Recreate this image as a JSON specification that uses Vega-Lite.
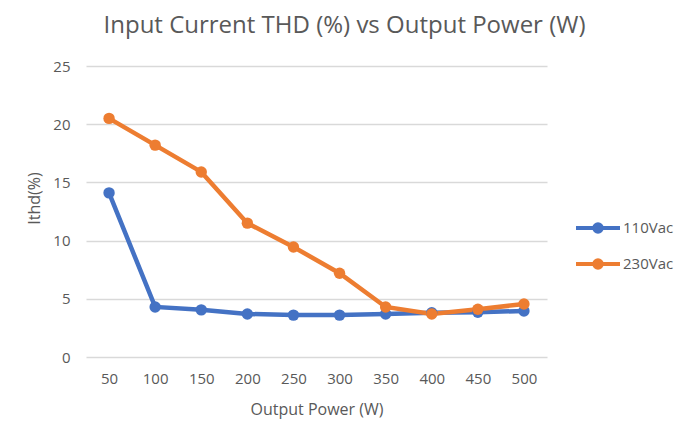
{
  "$schema": "https://vega.github.io/schema/vega-lite/v6.json",
  "autosize": "none",
  "width": 461,
  "height": 291,
  "padding": {"left": 86, "top": 66, "right": 139, "bottom": 73},
  "background": "white",
  "title": {
    "text": "Input Current THD (%) vs Output Power (W)",
    "font": "Open Sans",
    "fontSize": 24,
    "fontWeight": "normal",
    "color": "#595959",
    "anchor": "middle",
    "frame": "group",
    "dx": 28,
    "offset": 21
  },
  "config": {
    "view": {"stroke": null},
    "font": "Open Sans"
  },
  "data": {
    "values": [
      {"power": "50", "series": "110Vac", "thd": 14.1},
      {"power": "100", "series": "110Vac", "thd": 4.3},
      {"power": "150", "series": "110Vac", "thd": 4.05},
      {"power": "200", "series": "110Vac", "thd": 3.7},
      {"power": "250", "series": "110Vac", "thd": 3.6},
      {"power": "300", "series": "110Vac", "thd": 3.6},
      {"power": "350", "series": "110Vac", "thd": 3.7},
      {"power": "400", "series": "110Vac", "thd": 3.8},
      {"power": "450", "series": "110Vac", "thd": 3.85},
      {"power": "500", "series": "110Vac", "thd": 3.95},
      {"power": "50", "series": "230Vac", "thd": 20.5},
      {"power": "100", "series": "230Vac", "thd": 18.2},
      {"power": "150", "series": "230Vac", "thd": 15.9},
      {"power": "200", "series": "230Vac", "thd": 11.5},
      {"power": "250", "series": "230Vac", "thd": 9.45},
      {"power": "300", "series": "230Vac", "thd": 7.2},
      {"power": "350", "series": "230Vac", "thd": 4.3},
      {"power": "400", "series": "230Vac", "thd": 3.7},
      {"power": "450", "series": "230Vac", "thd": 4.1},
      {"power": "500", "series": "230Vac", "thd": 4.55}
    ]
  },
  "encoding": {
    "x": {
      "field": "power",
      "type": "ordinal",
      "sort": null,
      "scale": {"type": "point", "padding": 0.5},
      "axis": {
        "title": "Output Power (W)",
        "titleFont": "Open Sans",
        "titleFontSize": 16,
        "titleFontWeight": "normal",
        "titleColor": "#595959",
        "titlePadding": 15,
        "labelAngle": 0,
        "labelFont": "Open Sans",
        "labelFontSize": 15,
        "labelColor": "#595959",
        "labelPadding": 14,
        "domain": false,
        "ticks": false,
        "grid": false
      }
    },
    "y": {
      "field": "thd",
      "type": "quantitative",
      "scale": {"domain": [0, 25]},
      "axis": {
        "title": "Ithd(%)",
        "titleFont": "Open Sans",
        "titleFontSize": 16,
        "titleFontWeight": "normal",
        "titleColor": "#595959",
        "titlePadding": 10,
        "titleY": 132,
        "values": [0, 5, 10, 15, 20, 25],
        "labelFont": "Open Sans",
        "labelFontSize": 15,
        "labelColor": "#595959",
        "labelPadding": 16,
        "domain": false,
        "ticks": false,
        "grid": true,
        "gridColor": "#d9d9d9",
        "gridWidth": 1.5
      }
    },
    "color": {
      "field": "series",
      "type": "nominal",
      "scale": {"domain": ["110Vac", "230Vac"], "range": ["#4472C4", "#ED7D31"]},
      "legend": {
        "title": null,
        "orient": "none",
        "legendX": 488,
        "legendY": 138,
        "symbolType": "M-1,0L1,0M-0.17,0A0.17,0.17,0,1,0,0.17,0A0.17,0.17,0,1,0,-0.17,0Z",
        "symbolSize": 1936,
        "symbolStrokeWidth": 4,
        "labelFont": "Open Sans",
        "labelFontSize": 15,
        "labelColor": "#595959",
        "labelOffset": 1,
        "rowPadding": -11,
        "encode": {
          "symbols": {
            "update": {
              "fill": {"scale": "color", "field": "value"},
              "stroke": {"scale": "color", "field": "value"},
              "opacity": {"value": 1}
            }
          }
        }
      }
    }
  },
  "layer": [
    {"mark": {"type": "line", "strokeWidth": 4.5}},
    {"mark": {"type": "point", "filled": true, "size": 130, "opacity": 1, "shape": "circle"}}
  ]
}
